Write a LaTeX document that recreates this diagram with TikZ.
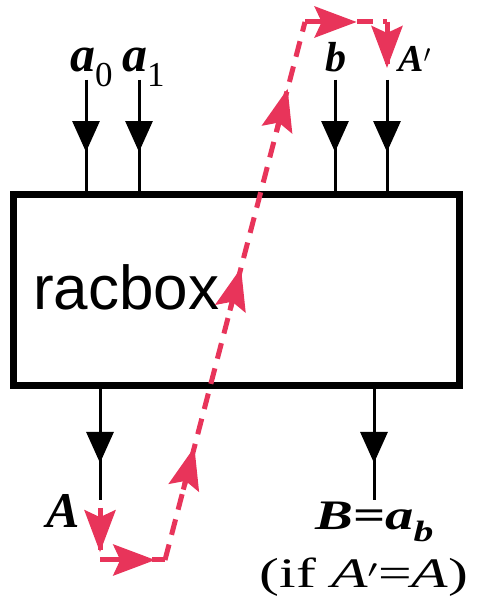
\documentclass[tikz,border=0pt]{standalone}
\usepackage{fontspec}
\setmainfont{Liberation Serif}
\newfontfamily\boxfont{Liberation Sans}
\usepackage{graphicx}
\usepackage{tikz}
\usetikzlibrary{arrows.meta,calc}
\definecolor{trace}{RGB}{232,52,90}

\tikzset{
  wire/.style={draw=black,line width=3pt},
  wirehead/.style={draw=black,line width=3pt,-{Triangle[length=31pt,width=27pt]}},
  walk/.style={draw=trace,line width=5pt,dash pattern=on 16pt off 10pt},
  walkhead/.style={draw=trace,fill=trace,line width=5pt,-{Stealth[length=42pt,width=31pt,inset=7pt]}},
  lbl/.style={inner sep=0pt,font=\bfseries\fontsize{42}{42}\selectfont},
}
\newcommand\wide[2]{\scalebox{#1}[1]{#2}}
% red head on the segment #1--#2, tip at fraction #3
\newcommand\walktip[3]{\draw[walkhead] ($(#1)!#3!(#2)!44pt!(#1)$) -- ($(#1)!#3!(#2)$);}

\begin{document}
\begin{tikzpicture}[x=1pt,y=1pt]
\useasboundingbox (0,0) rectangle (476,596);
% the box:
\node[draw,line width=7pt,minimum width=445.5pt,minimum height=191pt,inner sep=0pt] (rac) at (236.25,305.5) {};
\node[anchor=base west,inner sep=0pt,font=\boxfont\fontsize{62}{62}\selectfont] (racname) at (33,286) {racbox};
% inputs:
\coordinate (in0) at (86,516);
\coordinate (in1) at (139,516);
\coordinate (inb) at (335,516);
\coordinate (inA) at (387,516);
\foreach \w in {in0,in1,inb,inA}{
  \draw[wire] (\w) -- (\w |- rac.north);
  \draw[wirehead] (\w) -- ($(\w)!0.646!(\w |- rac.north)$);
}
\node[lbl,anchor=base west,font=\bfseries\fontsize{50}{50}\selectfont] (la0) at (70,524) {\textit{a}\textsubscript{\mdseries 0}};
\node[lbl,anchor=base west,font=\bfseries\fontsize{50}{50}\selectfont] (la1) at (122,524) {\textit{a}\textsubscript{\mdseries 1}};
\node[lbl,anchor=base west] (lb) at (325,524) {\textit{b}};
\node[lbl,anchor=base west,font=\bfseries\fontsize{38}{38}\selectfont] (lAp) at (398,524) {\textit{A}$'$};
% outputs:
\coordinate (outA) at (100,96);
\coordinate (outB) at (374,96);
\foreach \w in {outA,outB}{
  \draw[wire] (\w |- rac.south) -- (\w);
  \draw[wirehead] (\w |- rac.south) -- ($(\w |- rac.south)!0.665!(\w)$);
}
\node[lbl,anchor=base east,font=\bfseries\fontsize{50}{50}\selectfont] (lA) at (80,68) {\textit{A}};
\node[lbl,anchor=base west] (lB) at (315,66) {\wide{1.35}{\textit{B}=\textit{a}\textsubscript{\textit{b}}}};
\node[lbl,anchor=base,font=\fontsize{42}{42}\selectfont] (lif) at (364,9) {\wide{1.42}{(if \textit{A}$'$=\textit{A})}};
% the walk round:
\coordinate (r0) at (100,88);
\coordinate (r1) at (100,36);
\coordinate (r2) at (165,36);
\coordinate (r3) at (305,574);
\coordinate (r4) at (387,574);
\coordinate (r5) at (387,528);
\draw[walk] (r0) -- (r1);
\draw[walk] (r1) -- (r2);
\draw[walk] (r2) -- (r3);
\draw[walk] (r3) -- (r4);
\draw[walk] (r4) -- (r5);
\walktip{r0}{r1}{0.85}
\walktip{r1}{r2}{0.85}
\walktip{r2}{r3}{0.21}
\walktip{r2}{r3}{0.543}
\walktip{r2}{r3}{0.876}
\walktip{r3}{r4}{0.63}
\walktip{r4}{r5}{1}
\end{tikzpicture}
\end{document}
